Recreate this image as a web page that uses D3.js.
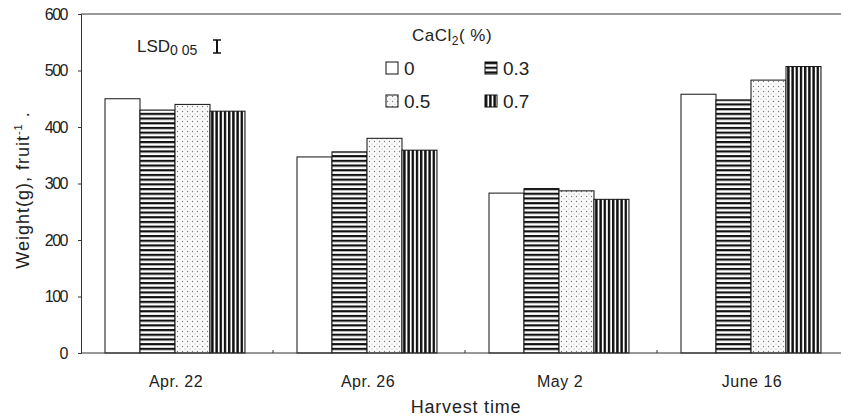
<!DOCTYPE html>
<html>
<head>
<meta charset="utf-8">
<script src="https://cdn.jsdelivr.net/npm/d3@7"></script>
<style>
  body { margin: 0; background: #fff; }
  text { font-family: "Liberation Sans", Arial, sans-serif; fill: #222; }
</style>
</head>
<body>
<div id="chart"></div>
<script>
// Chart data
const categories = ["Apr. 22", "Apr. 26", "May 2", "June 16"];
const series = ["0", "0.3", "0.5", "0.7"];
const values0 = [450, 347, 283, 458];
const values03 = [430, 356, 291, 448];
const values05 = [440, 380, 287, 483];
const values07 = [428, 359, 272, 507];
const yTicks = [0, 100, 200, 300, 400, 500, 600];

const allValues = [values0, values03, values05, values07];
const patternIds = ["p-white", "p-hstripe", "p-dots", "p-vstripe"];

const width = 841, height = 419;
const margin = { top: 14, left: 81, bottom: 66 };

const svg = d3.select("#chart").append("svg")
    .attr("width", width)
    .attr("height", height);

// Fill patterns for the four series
const defs = svg.append("defs");
defs.append("pattern").attr("id", "p-white")
    .attr("patternUnits", "userSpaceOnUse").attr("width", 4).attr("height", 4)
    .append("rect").attr("width", 4).attr("height", 4).attr("fill", "#fff");

const hs = defs.append("pattern").attr("id", "p-hstripe")
    .attr("patternUnits", "userSpaceOnUse").attr("width", 8).attr("height", 4.7);
hs.append("rect").attr("width", 8).attr("height", 4.7).attr("fill", "#fff");
hs.append("rect").attr("y", 0).attr("width", 8).attr("height", 2.2).attr("fill", "#111");

const vs = defs.append("pattern").attr("id", "p-vstripe")
    .attr("patternUnits", "userSpaceOnUse").attr("width", 4.2).attr("height", 8);
vs.append("rect").attr("width", 4.2).attr("height", 8).attr("fill", "#fff");
vs.append("rect").attr("x", 0).attr("width", 2.4).attr("height", 8).attr("fill", "#111");

const ds = defs.append("pattern").attr("id", "p-dots")
    .attr("patternUnits", "userSpaceOnUse").attr("width", 5).attr("height", 5);
ds.append("rect").attr("width", 5).attr("height", 5).attr("fill", "#fbfbfb");
ds.append("circle").attr("cx", 1.5).attr("cy", 1.5).attr("r", 0.7).attr("fill", "#777");
ds.append("circle").attr("cx", 4).attr("cy", 4).attr("r", 0.5).attr("fill", "#999");

// Scales
const x0 = d3.scaleBand()
    .domain(categories)
    .range([margin.left, margin.left + 4 * 192]);

const x1 = d3.scaleBand()
    .domain(series)
    .range([24, 164]);

const y = d3.scaleLinear()
    .domain([0, 600])
    .range([height - margin.bottom, margin.top]);

// Top frame line
svg.append("line")
    .attr("x1", margin.left).attr("x2", width)
    .attr("y1", y(600)).attr("y2", y(600))
    .attr("stroke", "#333").attr("stroke-width", 1);

// Bars
const groups = svg.append("g").selectAll("g")
    .data(categories)
    .enter().append("g")
    .attr("transform", d => `translate(${x0(d)},0)`);

groups.selectAll("rect")
    .data((c, ci) => series.map((s, si) => ({ s, si, v: allValues[si][ci] })))
    .enter().append("rect")
    .attr("x", d => x1(d.s))
    .attr("y", d => y(d.v))
    .attr("width", x1.bandwidth())
    .attr("height", d => y(0) - y(d.v))
    .attr("fill", d => `url(#${patternIds[d.si]})`)
    .attr("stroke", "#111")
    .attr("stroke-width", 1);

// Y axis
const yAxis = svg.append("g")
    .attr("transform", `translate(${margin.left},0)`)
    .call(d3.axisLeft(y).tickValues(yTicks).tickSize(3).tickPadding(11));
yAxis.select(".domain").attr("stroke", "#333");
yAxis.selectAll(".tick line").attr("stroke", "#333");
yAxis.selectAll("text")
    .style("font-size", "16px")
    .style("letter-spacing", "-1.5px")
    .attr("fill", "#222");

// X axis baseline with small ticks between groups
svg.append("line")
    .attr("x1", margin.left).attr("x2", width)
    .attr("y1", y(0)).attr("y2", y(0))
    .attr("stroke", "#333").attr("stroke-width", 1);

svg.append("g").selectAll("line")
    .data(categories.slice(1))
    .enter().append("line")
    .attr("x1", d => x0(d)).attr("x2", d => x0(d))
    .attr("y1", y(0)).attr("y2", y(0) - 3)
    .attr("stroke", "#333");

svg.append("g").selectAll("text")
    .data(categories)
    .enter().append("text")
    .attr("x", d => x0(d) + 95)
    .attr("y", y(0) + 34)
    .attr("text-anchor", "middle")
    .style("font-size", "16px")
    .style("letter-spacing", "0.5px")
    .text(d => d);

// Axis titles
svg.append("text")
    .attr("x", 466)
    .attr("y", 413)
    .attr("text-anchor", "middle")
    .style("font-size", "18px")
    .style("letter-spacing", "0.8px")
    .text("Harvest time");

const yl = svg.append("text")
    .attr("transform", "translate(29,190) rotate(-90)")
    .attr("text-anchor", "middle")
    .style("font-size", "18px")
    .style("letter-spacing", "1px");
yl.append("tspan").text("Weight(g), fruit");
yl.append("tspan").attr("dy", -7).style("font-size", "11px").text("-1");
yl.append("tspan").attr("dy", 7).text(" .");

// LSD marker
const lsd = svg.append("text")
    .attr("x", 137).attr("y", 52)
    .style("font-size", "17px");
lsd.append("tspan").text("LSD");
lsd.append("tspan").attr("dy", 3).style("font-size", "14px").text("0 05");

svg.append("line")
    .attr("x1", 217).attr("x2", 217).attr("y1", 40).attr("y2", 53)
    .attr("stroke", "#111").attr("stroke-width", 2);
svg.append("line")
    .attr("x1", 213).attr("x2", 221).attr("y1", 40).attr("y2", 40)
    .attr("stroke", "#111").attr("stroke-width", 1.5);
svg.append("line")
    .attr("x1", 213).attr("x2", 221).attr("y1", 53).attr("y2", 53)
    .attr("stroke", "#111").attr("stroke-width", 1.5);

// Legend
const lt = svg.append("text")
    .attr("x", 412).attr("y", 41)
    .style("font-size", "17px")
    .style("letter-spacing", "0.5px");
lt.append("tspan").text("CaCl");
lt.append("tspan").attr("dy", 4).style("font-size", "12px").text("2");
lt.append("tspan").attr("dy", -4).text("( %)");

const legendPos = [[386, 62], [485, 62], [386, 95], [485, 95]];
const legend = svg.append("g").selectAll("g")
    .data(series)
    .enter().append("g")
    .attr("transform", (d, i) => `translate(${legendPos[i][0]},${legendPos[i][1]})`);

legend.append("rect")
    .attr("width", 12).attr("height", 12)
    .attr("fill", (d, i) => `url(#${patternIds[i]})`)
    .attr("stroke", "#111").attr("stroke-width", 1);

legend.append("text")
    .attr("x", 18).attr("y", 13)
    .style("font-size", "19px")
    .text(d => d);
</script>
</body>
</html>
